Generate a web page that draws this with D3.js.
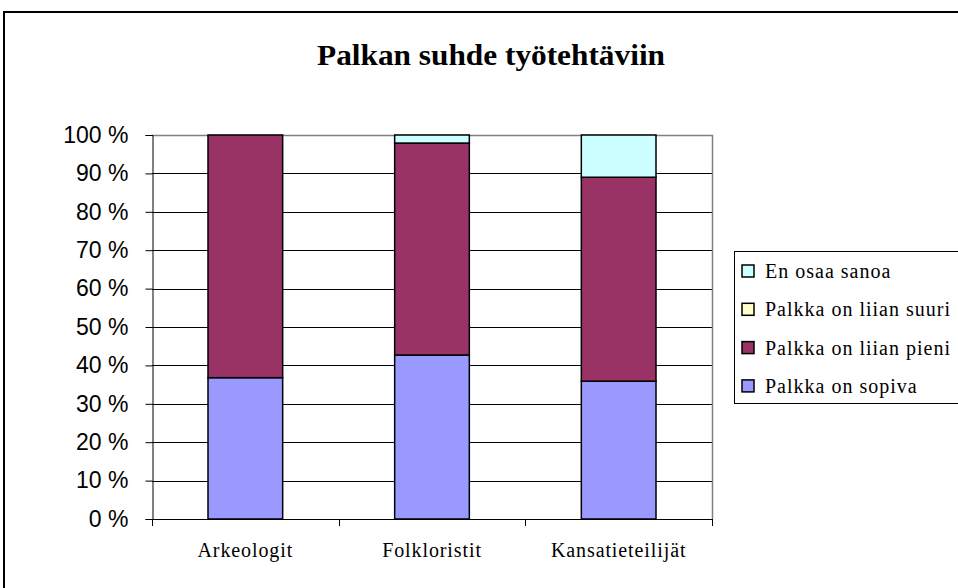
<!DOCTYPE html>
<html lang="fi">
<head>
<meta charset="utf-8" />
<title>Palkan suhde työtehtäviin</title>
<script src="https://d3js.org/d3.v7.min.js"></script>
<style>
  body { margin: 0; background: #fff; }
  svg { display: block; }
</style>
</head>
<body>
<div id="root"></div>
<script>
// data (percent of answers)
const categories = ["Arkeologit", "Folkloristit", "Kansatieteilijät"];
const sopiva = [36.8, 42.7, 35.9];      // Palkka on sopiva
const liianPieni = [63.2, 55.2, 53.1];  // Palkka on liian pieni
const liianSuuri = [0, 0, 0];           // Palkka on liian suuri
const enOsaa = [0, 2.1, 11.0];          // En osaa sanoa
const seriesNames = ["Palkka on sopiva", "Palkka on liian pieni", "Palkka on liian suuri", "En osaa sanoa"];
const seriesColors = ["#9999ff", "#993366", "#ffffcc", "#ccffff"];
const yTicks = [0, 10, 20, 30, 40, 50, 60, 70, 80, 90, 100];

const width = 958, height = 588;
const plot = { left: 152, right: 712, top: 135, bottom: 519 };
const serif = "'Liberation Serif', 'Times New Roman', serif";

const rows = categories.map((c, i) => ({
  cat: c,
  [seriesNames[0]]: sopiva[i],
  [seriesNames[1]]: liianPieni[i],
  [seriesNames[2]]: liianSuuri[i],
  [seriesNames[3]]: enOsaa[i]
}));
const stacked = d3.stack().keys(seriesNames)(rows);

const x = d3.scaleBand()
    .domain(categories)
    .range([plot.left, plot.right])
    .paddingInner(0.6)
    .paddingOuter(0.3);

const y = d3.scaleLinear()
    .domain([0, 100])
    .range([plot.bottom, plot.top]);

const color = d3.scaleOrdinal().domain(seriesNames).range(seriesColors);

const svg = d3.select("#root").append("svg")
    .attr("width", width)
    .attr("height", height);

// outer chart frame
svg.append("rect")
    .attr("x", 4).attr("y", 12)
    .attr("width", width + 10).attr("height", height + 10)
    .attr("fill", "none")
    .attr("stroke", "#000")
    .attr("stroke-width", 2);

svg.append("text")
    .attr("x", 491).attr("y", 65)
    .attr("text-anchor", "middle")
    .attr("font-family", serif)
    .attr("font-weight", "bold")
    .attr("font-size", 30)
    .attr("textLength", 348)
    .attr("lengthAdjust", "spacingAndGlyphs")
    .text("Palkan suhde työtehtäviin");

// gridlines
svg.append("g")
  .selectAll("line")
  .data(yTicks.filter(d => d > 0 && d < 100))
  .join("line")
    .attr("x1", plot.left).attr("x2", plot.right)
    .attr("y1", d => Math.round(y(d)) + 0.5).attr("y2", d => Math.round(y(d)) + 0.5)
    .attr("stroke", "#000")
    .attr("stroke-width", 1);

// plot area border (top / right)
svg.append("path")
    .attr("d", `M${plot.left},${plot.top + 0.5}H${plot.right + 0.5}V${plot.bottom}`)
    .attr("fill", "none")
    .attr("stroke", "#808080")
    .attr("stroke-width", 1.5);

// bars
svg.append("g")
  .selectAll("g")
  .data(stacked)
  .join("g")
    .attr("fill", d => color(d.key))
  .selectAll("rect")
  .data(d => d.filter(s => s[1] - s[0] > 0))
  .join("rect")
    .attr("x", d => x(d.data.cat))
    .attr("width", x.bandwidth())
    .attr("y", d => y(d[1]))
    .attr("height", d => y(d[0]) - y(d[1]))
    .attr("stroke", "#000")
    .attr("stroke-width", 1.5);

// y axis
const yAxis = svg.append("g")
    .attr("transform", `translate(${plot.left + 0.5},0)`)
    .call(d3.axisLeft(y).tickValues(yTicks).tickSize(7).tickPadding(17).tickFormat(d => d + " %"));
yAxis.select(".domain").attr("stroke", "#000");
yAxis.selectAll(".tick line").attr("stroke", "#000");
yAxis.selectAll("text")
    .attr("font-family", "'Liberation Sans', Arial, sans-serif")
    .attr("font-size", 23)
    .attr("fill", "#000");

// x axis line with ticks at band edges
const edges = categories.map(c => x(c) - x.step() * x.paddingInner() / 2);
edges[0] = plot.left;
edges.push(plot.right);
svg.append("line")
    .attr("x1", plot.left).attr("x2", plot.right)
    .attr("y1", plot.bottom + 0.5).attr("y2", plot.bottom + 0.5)
    .attr("stroke", "#000");
svg.append("g")
  .selectAll("line")
  .data(edges)
  .join("line")
    .attr("x1", d => Math.round(d) + 0.5).attr("x2", d => Math.round(d) + 0.5)
    .attr("y1", plot.bottom).attr("y2", plot.bottom + 7)
    .attr("stroke", "#000");

svg.append("g")
  .selectAll("text")
  .data(categories)
  .join("text")
    .attr("x", d => x(d) + x.bandwidth() / 2)
    .attr("y", 557)
    .attr("text-anchor", "middle")
    .attr("font-family", serif)
    .attr("font-size", 20)
    .attr("letter-spacing", 0.9)
    .text(d => d);

// legend
const legend = svg.append("g");
legend.append("rect")
    .attr("x", 734.5).attr("y", 251.5)
    .attr("width", 240).attr("height", 152)
    .attr("fill", "#fff")
    .attr("stroke", "#000");

const legendItems = legend.selectAll("g")
  .data(seriesNames.slice().reverse())
  .join("g")
    .attr("transform", (d, i) => `translate(742,${271 + i * 38.3})`);

legendItems.append("rect")
    .attr("x", 0).attr("y", -6)
    .attr("width", 12).attr("height", 12)
    .attr("fill", d => color(d))
    .attr("stroke", "#000")
    .attr("stroke-width", 1.5);

legendItems.append("text")
    .attr("x", 23)
    .attr("dy", "0.35em")
    .attr("font-family", serif)
    .attr("font-size", 20)
    .attr("letter-spacing", 1)
    .text(d => d);
</script>
</body>
</html>
